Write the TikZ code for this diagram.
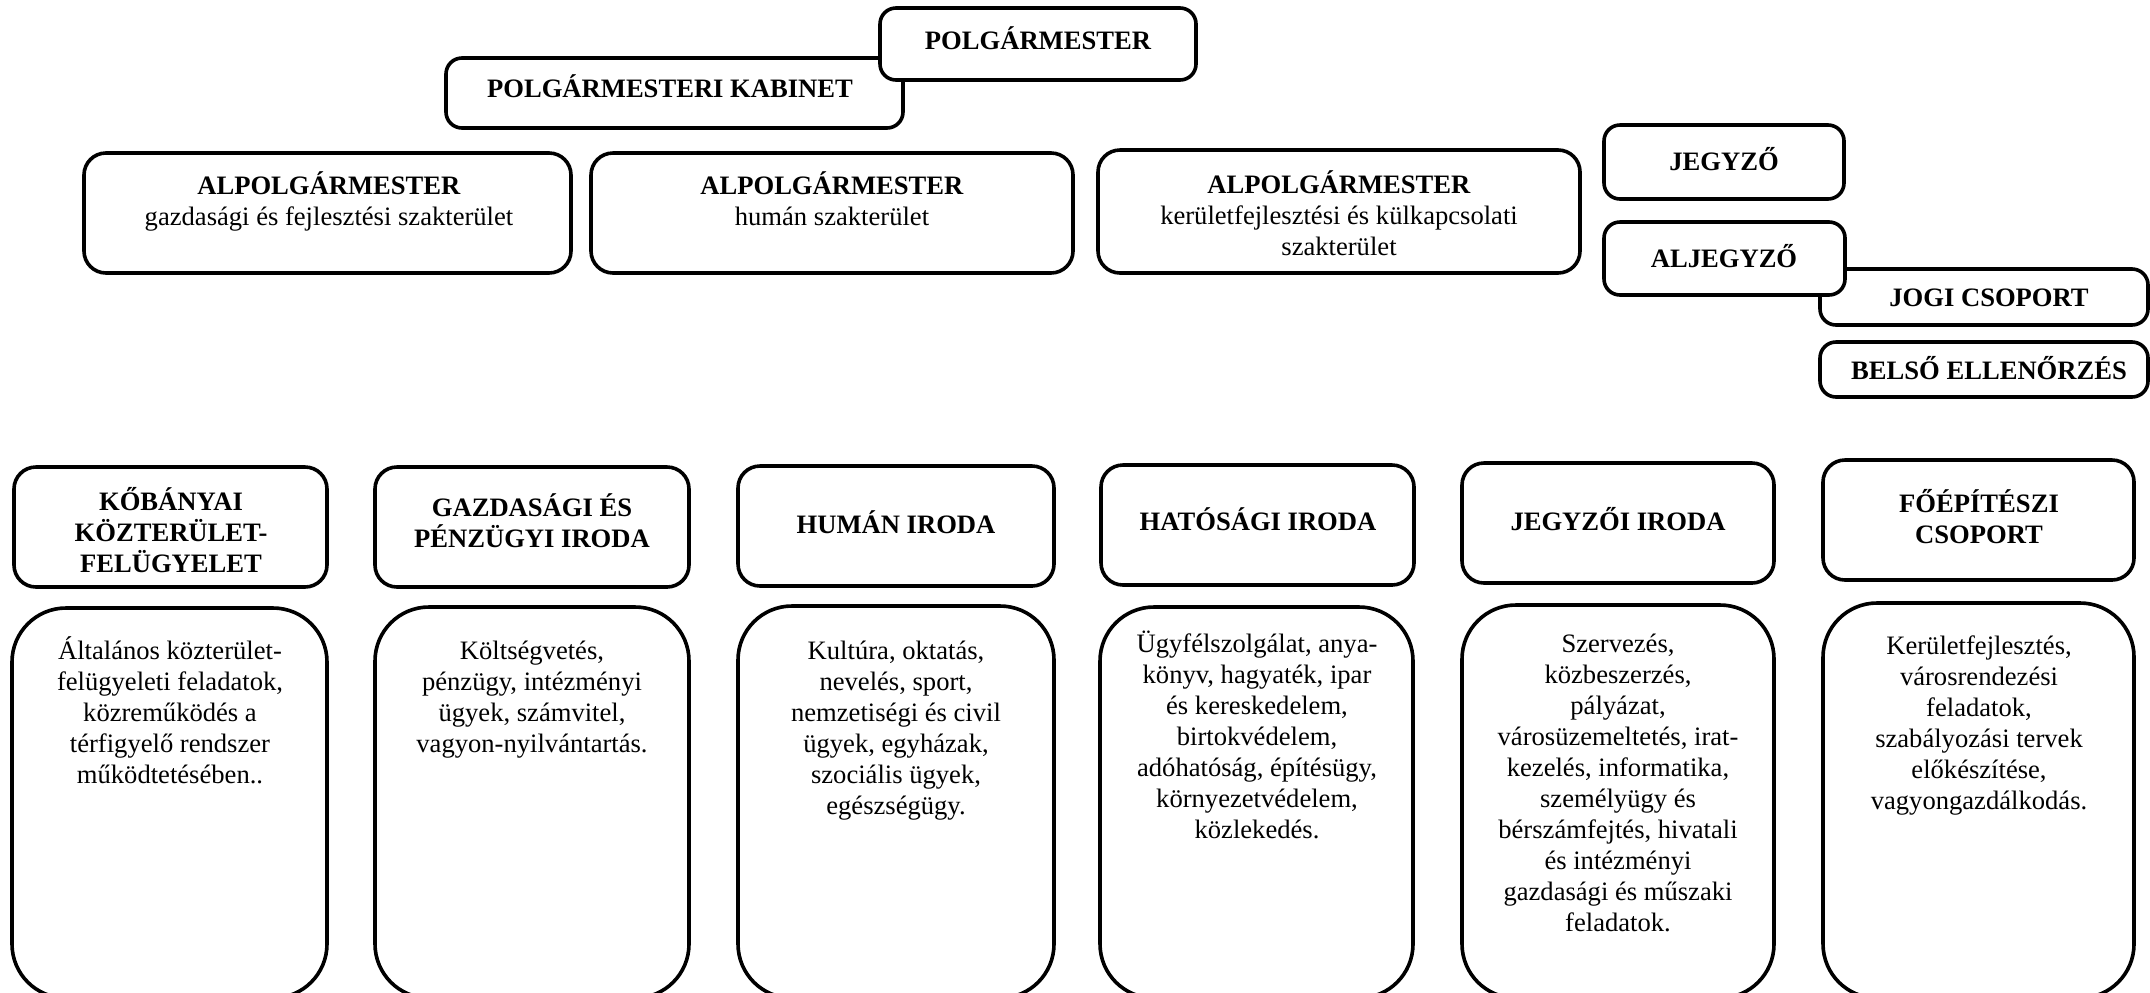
\documentclass[tikz,border=0pt]{standalone}
\usepackage{fontspec}
\setmainfont{Liberation Serif}
\newcommand\fl{\rule{0pt}{1em}}
\newcommand\mkbox[6]{%
  \pgfmathsetmacro\bw{(#4-#2)*0.5}%
  \pgfmathsetmacro\bh{(#5-#3)*0.5}%
  \node[#6, minimum width=\bw pt, minimum height=\bh pt] (#1) at ({(#2+#4)/2},{(#3+#5)/2}) {};}
\begin{document}
\begin{tikzpicture}[x=0.5pt, y=-0.5pt,
  bx/.style={draw, line width=1.8pt, fill=white, rounded corners=8pt, inner sep=0pt},
  bxm/.style={bx, rounded corners=11pt},
  bxl/.style={bx, rounded corners=27pt},
  tx/.style={align=center, inner sep=0pt, anchor=north, font=\fontsize{13.3pt}{15.5pt}\selectfont},
  hd/.style={tx, font=\fontsize{13.3pt}{15.5pt}\selectfont\bfseries}]
\useasboundingbox (0,0) rectangle (2150,992);
\clip (0,0) rectangle (2150,992);
% top
\mkbox{kab}{446}{58}{903}{128}{bx}
\node[hd] (kabt) at (670,70) {\fl POLGÁRMESTERI KABINET};
\mkbox{pm}{880}{8}{1196}{80}{bx}
\node[hd] (pmt) at (1038,22) {\fl POLGÁRMESTER};
% alpolgarmesterek
\mkbox{a1}{84}{153}{571}{273}{bxm}
\node[tx] (a1t) at (329,167) {\fl\textbf{ALPOLGÁRMESTER}\\gazdasági és fejlesztési szakterület};
\mkbox{a2}{591}{153}{1073}{273}{bxm}
\node[tx] (a2t) at (832,167) {\fl\textbf{ALPOLGÁRMESTER}\\humán szakterület};
\mkbox{a3}{1098}{150}{1580}{273}{bxm}
\node[tx] (a3t) at (1339,166) {\fl\textbf{ALPOLGÁRMESTER}\\kerületfejlesztési és külkapcsolati\\szakterület};
% jegyzo
\mkbox{j}{1604}{125}{1844}{199}{bx}
\node[hd] (jt) at (1724,143) {\fl JEGYZŐ};
\mkbox{jogi}{1820}{269}{2148}{325}{bx}
\node[hd] (jogit) at (1989,279) {\fl JOGI CSOPORT};
\mkbox{aj}{1604}{222}{1845}{295}{bx}
\node[hd] (ajt) at (1724,240) {\fl ALJEGYZŐ};
\mkbox{be}{1820}{342}{2148}{397}{bx}
\node[hd] (bet) at (1989,352) {\fl BELSŐ ELLENŐRZÉS};
% office headers
\mkbox{h1}{14}{467}{327}{587}{bxm}
\node[hd] (h1t) at (171,483) {\fl KŐBÁNYAI\\KÖZTERÜLET-\\FELÜGYELET};
\mkbox{h2}{375}{467}{689}{587}{bxm}
\node[hd] (h2t) at (532,489) {\fl GAZDASÁGI ÉS\\PÉNZÜGYI IRODA};
\mkbox{h3}{738}{466}{1054}{586}{bxm}
\node[hd] (h3t) at (896,506) {\fl HUMÁN IRODA};
\mkbox{h4}{1101}{465}{1414}{585}{bxm}
\node[hd] (h4t) at (1258,503) {\fl HATÓSÁGI IRODA};
\mkbox{h5}{1462}{463}{1774}{583}{bxm}
\node[hd] (h5t) at (1618,503) {\fl JEGYZŐI IRODA};
\mkbox{h6}{1823}{460}{2134}{580}{bxm}
\node[hd] (h6t) at (1979,485) {\fl FŐÉPÍTÉSZI\\CSOPORT};
% office tasks
\mkbox{l1}{12}{608}{327}{998}{bxl}
\node[tx] (l1t) at (170,632) {\fl Általános közterület-\\felügyeleti feladatok,\\közreműködés a\\térfigyelő rendszer\\működtetésében..};
\mkbox{l2}{375}{607}{689}{998}{bxl}
\node[tx] (l2t) at (532,632) {\fl Költségvetés,\\pénzügy, intézményi\\ügyek, számvitel,\\vagyon-nyilvántartás.};
\mkbox{l3}{738}{606}{1054}{998}{bxl}
\node[tx] (l3t) at (896,632) {\fl Kultúra, oktatás,\\nevelés, sport,\\nemzetiségi és civil\\ügyek, egyházak,\\szociális ügyek,\\egészségügy.};
\mkbox{l4}{1100}{607}{1413}{998}{bxl}
\node[tx] (l4t) at (1257,625) {\fl Ügyfélszolgálat, anya-\\könyv, hagyaték, ipar\\és kereskedelem,\\birtokvédelem,\\adóhatóság, építésügy,\\környezetvédelem,\\közlekedés.};
\mkbox{l5}{1462}{605}{1774}{998}{bxl}
\node[tx] (l5t) at (1618,625) {\fl Szervezés,\\közbeszerzés,\\pályázat,\\városüzemeltetés, irat-\\kezelés, informatika,\\személyügy és\\bérszámfejtés, hivatali\\és intézményi\\gazdasági és műszaki\\feladatok.};
\mkbox{l6}{1823}{603}{2134}{998}{bxl}
\node[tx] (l6t) at (1979,627) {\fl Kerületfejlesztés,\\városrendezési\\feladatok,\\szabályozási tervek\\előkészítése,\\vagyongazdálkodás.};
\end{tikzpicture}
\end{document}
